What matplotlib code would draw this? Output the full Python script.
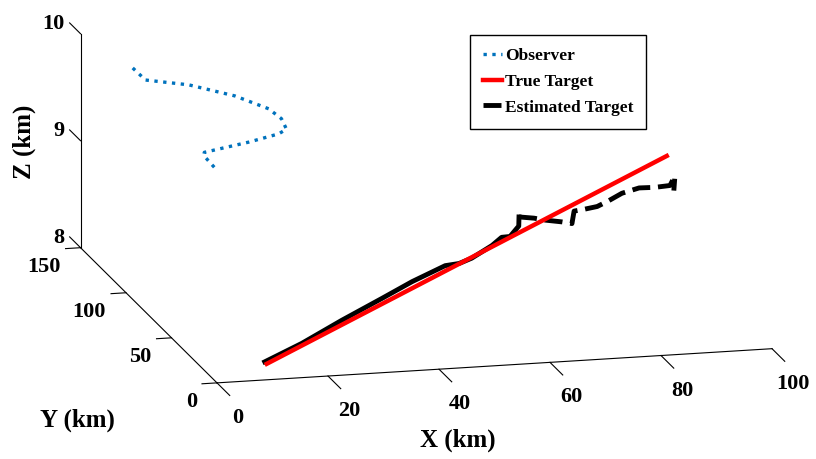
import matplotlib
matplotlib.use("Agg")
import matplotlib.pyplot as plt
from mpl_toolkits.mplot3d import proj3d

# observer track (km)
obs_x = [9.4, 11.7, 19.5, 27.8, 33.9, 36.2, 37.1, 35.7, 30.3, 22.3, 22.2, 24.5]
obs_y = [150, 150, 150, 150, 150, 150, 150, 150, 150, 150, 150, 150]
obs_z = [9.65, 9.53, 9.46, 9.33, 9.19, 9.09, 8.99, 8.95, 8.89, 8.82, 8.79, 8.65]

# true target (straight line)
true_x = [11.7, 95.0]
true_y = [16.7, 85.2]
true_z = [8.0, 9.1]

# estimated target
est_x = [11.7, 19.3, 28.0, 36.6, 43.1, 49.8, 51.8, 54.3, 58.8, 61.3, 62.5, 65.4, 67.0,
         68.6, 69.6, 71.2, 72.1, 74.6, 76.2, 78.2, 80.4, 83.2, 86.3, 88.2, 90.3, 92.6, 89.9]
est_y = [18.9, 24.6, 33.8, 41.9, 48.5, 53.0, 49.9, 51.3, 56.5, 61.1, 59.2, 67.3, 76.8,
         70.1, 64.0, 55.5, 49.7, 62.6, 60.6, 59.2, 60.0, 62.5, 62.5, 56.5, 53.0, 61.6, 46.3]
est_z = [8.00, 8.10, 8.21, 8.32, 8.40, 8.49, 8.53, 8.56, 8.62, 8.65, 8.67, 8.69, 8.69,
         8.73, 8.76, 8.81, 8.84, 8.84, 8.87, 8.90, 8.94, 8.98, 9.02, 9.07, 9.11, 9.12, 9.12]
n_solid = 13  # dense part that renders as a solid line

x_ticks = [0, 20, 40, 60, 80, 100]
y_ticks = [0, 50, 100, 150]
z_ticks = [8, 9, 10]

plt.rcParams['font.family'] = 'Liberation Serif'
plt.rcParams['font.weight'] = 'bold'

fig = plt.figure(figsize=(8.16, 4.59), dpi=100)
ax = fig.add_axes([0.0148, 0.0699, 1, 1], projection='3d', proj_type='ortho')
ax.view_init(elev=14.3, azim=-104)
ax.set_box_aspect((1, 0.986, 0.386), zoom=1.762)

ax.plot(obs_x, obs_y, obs_z, ':', color='#0072BD', lw=2.4, label='Observer', clip_on=False)
ax.plot(est_x[:n_solid], est_y[:n_solid], est_z[:n_solid], '-', color='k', lw=3.5,
        clip_on=False)
ax.plot(est_x[n_solid - 1:], est_y[n_solid - 1:], est_z[n_solid - 1:], '--', color='k',
        lw=3.5, label='Estimated Target', clip_on=False)
ax.plot(true_x, true_y, true_z, '-', color='r', lw=3.2, label='True Target', clip_on=False)

ax.set_xlim(0, 100)
ax.set_ylim(0, 150)
ax.set_zlim(8, 10)
ax.set_xticks([])
ax.set_yticks([])
ax.set_zticks([])

for a in (ax.xaxis, ax.yaxis, ax.zaxis):
    a.set_pane_color((1, 1, 1, 0))
    a.pane.set_edgecolor((1, 1, 1, 0))
    a.line.set_color('k')
    a.line.set_linewidth(0.8)
ax.grid(False)

# matlab-style ticks
tk = dict(color='k', lw=0.8, clip_on=False)
for t in x_ticks:
    ax.plot([t, t], [0, -14], [8, 8], **tk)
for t in y_ticks:
    ax.plot([0, -2.7], [t, t], [8, 8], **tk)
for t in z_ticks:
    ax.plot([0, 0], [150, 162], [t, t], **tk)

# tick labels, placed at the projected tick positions
fig.canvas.draw()
M = ax.get_proj()
proj = getattr(proj3d, 'proj_transform', None) or proj3d._proj_transform


def tick_label(x, y, z, s, dx, dy, ha):
    px, py, _ = proj(x, y, z, M)
    ax.annotate(s, (px, py), xycoords='data', xytext=(dx, dy),
                textcoords='offset pixels', ha=ha, va='center', fontsize=16,
                fontweight='bold', annotation_clip=False)


for t in x_ticks:
    tick_label(t, 0, 8, str(t), 21, -35, 'center')
for t in y_ticks:
    tick_label(0, t, 8, str(t), -20, -19, 'right')
for t in z_ticks:
    tick_label(0, 150, t, str(t), -16, 10, 'right')

fig.text(458 / 816, 1 - 440 / 459, 'X (km)', fontsize=18, fontweight='bold',
         ha='center', va='center')
fig.text(77 / 816, 1 - 420 / 459, 'Y (km)', fontsize=18, fontweight='bold',
         ha='center', va='center')
fig.text(24 / 816, 1 - 142 / 459, 'Z (km)', fontsize=18, fontweight='bold',
         ha='center', va='center', rotation=90)

h, l = ax.get_legend_handles_labels()
order = [0, 2, 1]
fig.legend([h[i] for i in order], [l[i] for i in order], loc='upper left',
           bbox_to_anchor=(470 / 816, 1 - 35 / 459), borderaxespad=0, fontsize=12.5,
           frameon=True, fancybox=False, edgecolor='k', handlelength=1.1,
           handletextpad=0.15, borderpad=0.75, labelspacing=0.55, framealpha=1)

fig.savefig('out.png', dpi=100)
